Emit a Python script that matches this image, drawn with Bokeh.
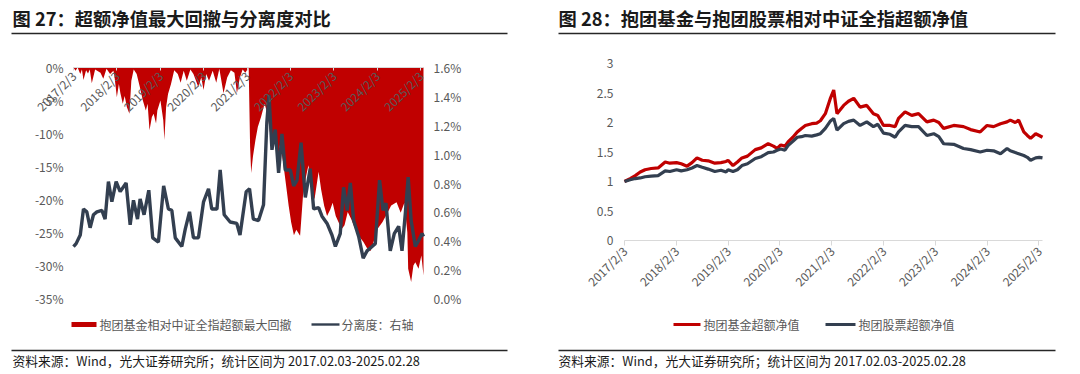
import math
import pandas as pd
from bokeh.plotting import figure
from bokeh.models import (LinearAxis, DatetimeAxis, Range1d, FixedTicker, Label, BoxAnnotation,
                          NumeralTickFormatter, PrintfTickFormatter, CustomJSTickFormatter)
from bokeh.layouts import row
from bokeh.embed import file_html
from bokeh.resources import INLINE

FONT = "Noto Sans CJK SC"
RED = "#C00000"
NAVY = "#333F50"
TICK_GRAY = "#595959"

# ---------------- data: chart 27 ----------------
dd_dates = ["2017-02-03", "2017-02-20", "2017-03-10", "2017-04-01", "2017-04-15", "2017-04-28",
            "2017-05-20", "2017-06-05", "2017-06-20", "2017-07-07", "2017-08-04", "2017-09-18",
            "2017-10-12", "2017-11-08", "2017-12-08", "2018-01-05", "2018-01-15", "2018-02-03",
            "2018-02-20", "2018-03-05", "2018-03-25", "2018-04-10", "2018-04-28", "2018-05-20",
            "2018-06-05", "2018-06-25", "2018-07-20", "2018-08-15", "2018-09-10", "2018-10-05",
            "2018-10-20", "2018-11-05", "2018-11-25", "2018-12-10", "2018-12-30", "2019-01-10",
            "2019-02-05", "2019-03-01", "2019-03-10", "2019-03-25", "2019-04-10", "2019-05-05",
            "2019-06-01", "2019-07-01", "2019-07-25", "2019-08-20", "2019-09-15", "2019-10-15",
            "2019-11-10", "2019-12-20", "2020-01-15", "2020-02-03", "2020-02-25", "2020-03-20",
            "2020-04-20", "2020-05-20", "2020-06-15", "2020-07-20", "2020-08-20", "2020-09-20",
            "2020-10-20", "2020-11-10", "2020-12-05", "2020-12-28", "2021-01-20", "2021-02-17",
            "2021-03-01", "2021-03-10", "2021-03-25", "2021-04-15", "2021-05-05", "2021-06-01",
            "2021-07-01", "2021-07-25", "2021-08-10", "2021-09-01", "2021-09-25", "2021-10-20",
            "2021-11-10", "2021-12-05", "2021-12-25", "2022-01-20", "2022-02-10", "2022-03-05",
            "2022-03-25", "2022-04-26", "2022-05-20", "2022-06-15", "2022-07-05", "2022-08-05",
            "2022-08-25", "2022-09-29", "2022-10-20", "2022-11-15", "2022-12-09", "2023-01-05",
            "2023-01-25", "2023-02-20", "2023-03-15", "2023-04-10", "2023-05-05", "2023-06-01",
            "2023-07-01", "2023-08-01", "2023-09-01", "2023-10-10", "2023-11-11", "2023-12-10",
            "2024-01-05", "2024-02-05", "2024-03-20", "2024-05-01", "2024-06-01", "2024-07-16",
            "2024-08-20", "2024-09-20", "2024-10-15", "2024-10-22", "2024-11-16", "2024-12-05",
            "2024-12-21", "2025-01-17", "2025-02-10", "2025-02-28"]
max_drawdown = [0.0, -0.5, 0.0, -1.0, -0.3, -1.9,
                -0.4, -0.9, -0.3, -2.4, -0.3, -0.8,
                -1.7, -0.2, -1.0, -0.5, -1.5, -4.5,
                -2.5, -3.9, -5.5, -4.3, -6.0, -7.0,
                -2.0, -0.3, -1.0, -2.9, -5.0, -6.5,
                -5.5, -9.5, -7.5, -7.0, -8.5, -6.5,
                -5.0, -8.0, -11.0, -6.0, -4.0, -2.5,
                -0.4, -1.0, -2.3, -0.5, -2.0, -0.3,
                -1.0, -2.9, -1.5, -3.4, -1.0, -2.0,
                -0.5, -2.3, -0.2, -3.9, -1.5, -0.4,
                -0.8, -3.9, -1.5, -0.3, -0.8, 0.0,
                -12.0, -16.0, -13.5, -11.0, -9.0, -7.5,
                -5.5, -7.0, -9.0, -12.5, -11.0, -13.5,
                -11.5, -14.5, -17.3, -21.0, -23.5, -25.4,
                -24.6, -25.5, -19.5, -16.5, -14.8, -18.5,
                -20.0, -15.8, -18.5, -21.0, -22.5, -21.5,
                -20.5, -22.5, -23.4, -24.5, -23.9, -21.9,
                -23.0, -24.4, -25.5, -26.4, -27.4, -27.8,
                -26.4, -24.5, -23.4, -22.0, -20.9, -20.4,
                -22.0, -20.5, -25.0, -30.5, -32.5, -30.0,
                -29.5, -30.5, -28.5, -31.5]

sep_dates = ["2017-02-03", "2017-02-25", "2017-04-01", "2017-04-28", "2017-05-26", "2017-06-23",
             "2017-07-21", "2017-08-19", "2017-09-30", "2017-10-27", "2017-11-24", "2017-12-23",
             "2018-01-28", "2018-03-03", "2018-04-22", "2018-05-26", "2018-06-23", "2018-07-27",
             "2018-08-18", "2018-09-20", "2018-10-30", "2018-12-02", "2019-01-19", "2019-03-04",
             "2019-04-13", "2019-05-12", "2019-06-10", "2019-08-04", "2019-09-02", "2019-10-08",
             "2019-11-10", "2019-12-22", "2020-02-03", "2020-03-16", "2020-04-12", "2020-05-26",
             "2020-06-22", "2020-07-26", "2020-09-14", "2020-11-09", "2020-12-06", "2021-01-27",
             "2021-02-24", "2021-03-28", "2021-05-11", "2021-06-22", "2021-07-20", "2021-08-07",
             "2021-09-01", "2021-09-29", "2021-10-27", "2021-11-24", "2021-12-22", "2022-02-03",
             "2022-03-03", "2022-03-31", "2022-05-04", "2022-06-09", "2022-07-20", "2022-08-18",
             "2022-09-29", "2022-10-27", "2022-12-09", "2023-01-19", "2023-02-17", "2023-03-30",
             "2023-04-27", "2023-05-27", "2023-06-23", "2023-07-21", "2023-09-01", "2023-10-09",
             "2023-11-11", "2023-12-23", "2024-01-19", "2024-02-24", "2024-03-24", "2024-04-18",
             "2024-05-24", "2024-06-27", "2024-08-03", "2024-08-31", "2024-09-28", "2024-10-22",
             "2024-11-16", "2024-12-21", "2025-01-17", "2025-02-16", "2025-02-28"]
separation = [0.36, 0.38, 0.44, 0.62, 0.60, 0.49,
              0.58, 0.60, 0.61, 0.55, 0.81, 0.67,
              0.81, 0.74, 0.80, 0.51, 0.68, 0.55,
              0.69, 0.58, 0.75, 0.42, 0.39, 0.78,
              0.62, 0.61, 0.42, 0.36, 0.48, 0.60,
              0.42, 0.42, 0.67, 0.76, 0.62, 0.62,
              0.89, 0.58, 0.53, 0.52, 0.44, 0.74,
              0.76, 0.55, 0.54, 0.65, 1.22, 1.41,
              1.03, 1.17, 0.87, 1.14, 0.89, 0.89,
              0.78, 0.82, 1.08, 0.70, 0.90, 0.62,
              0.63, 0.57, 0.52, 0.44, 0.36, 0.45,
              0.77, 0.61, 0.80, 0.54, 0.43, 0.28,
              0.33, 0.36, 0.38, 0.82, 0.61, 0.66,
              0.33, 0.45, 0.50, 0.33, 0.59, 0.84,
              0.54, 0.36, 0.40, 0.45, 0.43]

# ---------------- data: chart 28 ----------------
nav_dates = ["2017-02-03", "2017-03-15", "2017-04-20", "2017-05-25", "2017-06-28", "2017-08-10",
             "2017-09-28", "2017-11-17", "2017-12-20", "2018-02-05", "2018-03-10", "2018-04-20",
             "2018-05-25", "2018-06-29", "2018-08-05", "2018-09-16", "2018-11-02", "2018-12-15",
             "2019-01-20", "2019-02-03", "2019-03-10", "2019-04-10", "2019-05-12", "2019-06-20",
             "2019-08-14", "2019-09-25", "2019-11-13", "2019-12-20", "2020-01-15", "2020-02-10",
             "2020-03-10", "2020-04-01", "2020-05-05", "2020-06-05", "2020-07-05", "2020-08-01",
             "2020-09-15", "2020-10-20", "2020-11-15", "2020-12-20", "2021-01-23", "2021-02-17",
             "2021-03-12", "2021-04-28", "2021-06-01", "2021-07-08", "2021-08-22", "2021-10-08",
             "2021-11-24", "2021-12-25", "2022-02-03", "2022-03-21", "2022-04-26", "2022-05-20",
             "2022-07-05", "2022-08-21", "2022-10-08", "2022-12-06", "2023-01-23", "2023-02-28",
             "2023-04-03", "2023-06-13", "2023-08-21", "2023-10-10", "2023-12-17", "2024-02-03",
             "2024-03-20", "2024-05-08", "2024-06-23", "2024-07-16", "2024-08-20", "2024-09-13",
             "2024-10-19", "2024-11-13", "2024-12-06", "2025-01-11", "2025-02-05", "2025-02-28"]
fund_excess_nav = [1.00, 1.05, 1.10, 1.16, 1.20, 1.22,
                   1.23, 1.33, 1.31, 1.32, 1.30, 1.26,
                   1.32, 1.40, 1.36, 1.35, 1.31, 1.32,
                   1.34, 1.36, 1.27, 1.33, 1.40, 1.43,
                   1.54, 1.57, 1.64, 1.60, 1.56, 1.62,
                   1.60, 1.67, 1.75, 1.84, 1.90, 1.95,
                   1.98, 1.99, 2.03, 2.15, 2.40, 2.55,
                   2.15, 2.29, 2.36, 2.41, 2.26, 2.29,
                   2.15, 2.12, 1.95, 1.95, 1.93, 2.07,
                   2.18, 2.12, 2.15, 2.01, 2.04, 2.00,
                   1.90, 1.95, 1.93, 1.88, 1.84, 1.95,
                   1.93, 1.98, 2.01, 2.04, 2.00, 2.04,
                   1.84, 1.78, 1.73, 1.81, 1.78, 1.75]
stock_excess_nav = [1.00, 1.03, 1.05, 1.06, 1.08, 1.09,
                    1.10, 1.18, 1.17, 1.20, 1.18, 1.20,
                    1.23, 1.27, 1.24, 1.21, 1.17, 1.19,
                    1.16, 1.20, 1.17, 1.20, 1.27, 1.30,
                    1.39, 1.42, 1.49, 1.50, 1.53, 1.55,
                    1.53, 1.61, 1.68, 1.75, 1.76, 1.78,
                    1.77, 1.79, 1.81, 1.90, 2.02, 2.07,
                    1.87, 1.98, 2.02, 2.04, 1.95, 2.01,
                    1.93, 1.97, 1.82, 1.80, 1.75, 1.84,
                    1.95, 1.93, 1.93, 1.78, 1.81, 1.76,
                    1.64, 1.63, 1.56, 1.54, 1.50, 1.53,
                    1.52, 1.47, 1.56, 1.52, 1.49, 1.47,
                    1.44, 1.41, 1.36, 1.40, 1.41, 1.40]

tick_labels = ["2017/2/3", "2018/2/3", "2019/2/3", "2020/2/3", "2021/2/3",
               "2022/2/3", "2023/2/3", "2024/2/3", "2025/2/3"]
left_y_ticks = [-35, -30, -25, -20, -15, -10, -5, 0]
right_y_ticks = [0.0, 0.2, 0.4, 0.6, 0.8, 1.0, 1.2, 1.4, 1.6]
nav_y_ticks = [0, 0.5, 1, 1.5, 2, 2.5, 3]

title_27 = "图 27：超额净值最大回撤与分离度对比"
title_28 = "图 28：抱团基金与抱团股票相对中证全指超额净值"
legend_27 = ["抱团基金相对中证全指超额最大回撤", "分离度：右轴"]
legend_28 = ["抱团基金超额净值", "抱团股票超额净值"]
source_text = "资料来源：Wind，光大证券研究所；统计区间为 2017.02.03-2025.02.28"


def ms(d):
    return pd.Timestamp(d).value // 10**6


tick_ms = [ms(pd.to_datetime(t, format="%Y/%m/%d")) for t in tick_labels]
x_start = ms("2017-02-03")
x_end = ms("2025-02-28")

H = 372  # figure height; the frame spans the whole figure


def span_range(v_lo, v_hi, px_lo, px_hi, total):
    k = (v_hi - v_lo) / (px_hi - px_lo)
    return Range1d(v_lo - px_lo * k, v_hi + (total - px_hi) * k)


def vspan_range(v_bottom, v_top, py_top, py_bottom, total):
    k = (v_top - v_bottom) / (py_bottom - py_top)
    return Range1d(v_bottom - (total - py_bottom) * k, v_top + py_top * k)


def date_formatter():
    return CustomJSTickFormatter(args=dict(tick_vals=tick_ms, tick_names=tick_labels),
                                 code="const i = tick_vals.indexOf(tick); return i >= 0 ? tick_names[i] : '';")


def label(p, x, y_from_top, text, size="12px", color=TICK_GRAY, bold=False):
    p.add_layout(Label(x=x, y=H - y_from_top, x_units="screen", y_units="screen", text=text,
                       text_font=FONT, text_font_size=size, text_color=color,
                       text_font_style="bold" if bold else "normal",
                       text_baseline="middle", text_align="left"))


def box(p, left, right, top_from_top, bottom_from_top, color):
    p.add_layout(BoxAnnotation(left=left, right=right, top=H - top_from_top, bottom=H - bottom_from_top,
                               left_units="screen", right_units="screen",
                               bottom_units="screen", top_units="screen",
                               fill_color=color, fill_alpha=1.0, line_color=None))


def style_axis(ax, standoff):
    ax.major_label_text_font = FONT
    ax.major_label_text_font_size = "12px"
    ax.major_label_text_color = TICK_GRAY
    ax.major_label_standoff = standoff
    ax.minor_tick_line_color = None
    ax.minor_tick_in = 0
    ax.minor_tick_out = 0


def hide_axis_line(ax):
    ax.axis_line_color = None
    ax.major_tick_line_color = None
    ax.major_tick_in = 0
    ax.major_tick_out = 0


def base_figure(width, x_range, y_range):
    p = figure(width=width, height=H, x_range=x_range, y_range=y_range,
               x_axis_location=None, y_axis_location=None,
               min_border=0, min_border_left=0, min_border_right=0,
               min_border_top=0, min_border_bottom=0,
               output_backend="svg", toolbar_location=None)
    p.outline_line_color = None
    p.grid.visible = False
    return p


# ---------------- figure 27 (page x 0..540) ----------------
W1 = 540
p1 = base_figure(W1, span_range(x_start, x_end, 73, 423, W1), vspan_range(-35, 0, 67, 298, H))
p1.extra_y_ranges = {"sep": vspan_range(0, 1.6, 67, 298, H)}

p1.varea(x=pd.to_datetime(dd_dates), y1=0, y2=max_drawdown, fill_color=RED)
p1.line(x=pd.to_datetime(sep_dates), y=separation, y_range_name="sep",
        line_color=NAVY, line_width=3.4)

xa = DatetimeAxis(fixed_location=0, ticker=FixedTicker(ticks=tick_ms), formatter=date_formatter(),
                  bounds=(x_start, x_end))
xa.major_label_orientation = math.pi / 4
xa.axis_line_color = "#D9D9D9"
xa.major_tick_line_color = "#D9D9D9"
xa.major_tick_in = 0
xa.major_tick_out = 3
style_axis(xa, 3)
p1.add_layout(xa, "below")

ya = LinearAxis(fixed_location=x_start, ticker=FixedTicker(ticks=left_y_ticks),
                formatter=PrintfTickFormatter(format="%d%%"))
hide_axis_line(ya)
style_axis(ya, 10)
p1.add_layout(ya, "left")

ya2 = LinearAxis(fixed_location=x_end, y_range_name="sep", ticker=FixedTicker(ticks=right_y_ticks),
                 formatter=PrintfTickFormatter(format="%.1f%%"))
hide_axis_line(ya2)
style_axis(ya2, 10)
p1.add_layout(ya2, "right")

label(p1, 12, 17, title_27, size="18.3px", color="#1a1a1a", bold=True)
box(p1, 11, 507, 32.25, 33.75, "#262626")
box(p1, 71, 96, 321.5, 326.5, RED)
label(p1, 99, 323.5, legend_27[0])
box(p1, 311, 339, 322.8, 325.2, NAVY)
label(p1, 341, 323.5, legend_27[1])
box(p1, 11, 507, 349.25, 350.75, "#262626")
label(p1, 12, 359.5, source_text, size="12.75px", color="#1a1a1a")

# ---------------- figure 28 (page x 540..1076) ----------------
W2 = 536
p2 = base_figure(W2, span_range(x_start, x_end, 84, 502, W2), vspan_range(0, 3, 63, 240, H))

nav_x = pd.to_datetime(nav_dates)
p2.line(x=nav_x, y=fund_excess_nav, line_color=RED, line_width=3.2)
p2.line(x=nav_x, y=stock_excess_nav, line_color=NAVY, line_width=3.2)

xb = DatetimeAxis(fixed_location=0, ticker=FixedTicker(ticks=tick_ms), formatter=date_formatter(),
                  bounds=(x_start, x_end))
xb.major_label_orientation = math.pi / 4
xb.axis_line_color = "#D9D9D9"
xb.major_tick_line_color = "#D9D9D9"
xb.major_tick_in = 0
xb.major_tick_out = 5
style_axis(xb, 3)
p2.add_layout(xb, "below")

yb = LinearAxis(fixed_location=x_start, ticker=FixedTicker(ticks=nav_y_ticks),
                formatter=NumeralTickFormatter(format="0.[0]"))
hide_axis_line(yb)
style_axis(yb, 11)
p2.add_layout(yb, "left")

label(p2, 18, 17, title_28, size="18.3px", color="#1a1a1a", bold=True)
box(p2, 18, 515, 32.25, 33.75, "#262626")
box(p2, 133, 160, 322.5, 325.5, RED)
label(p2, 163, 323.5, legend_28[0])
box(p2, 285, 315, 322.5, 325.5, NAVY)
label(p2, 318, 323.5, legend_28[1])
box(p2, 18, 515, 349.25, 350.75, "#262626")
label(p2, 18, 359.5, source_text, size="12.75px", color="#1a1a1a")

layout = row(p1, p2)
open("out.html", "w").write(file_html(layout, INLINE))
